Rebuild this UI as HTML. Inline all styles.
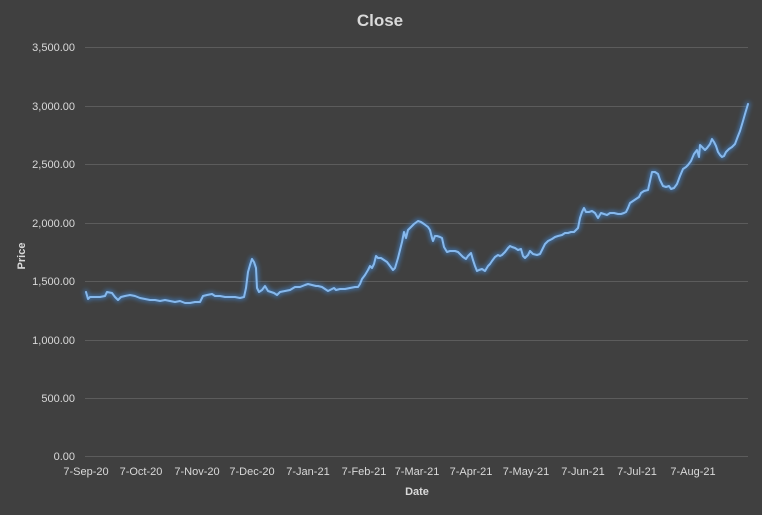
<!DOCTYPE html>
<html><head><style>
html,body{margin:0;padding:0;background:#404040;}
svg{display:block;}
text{font-family:"Liberation Sans",sans-serif;fill:#d9d9d9;}
</style></head><body>
<svg width="762" height="515" viewBox="0 0 762 515">
<defs>
<filter id="g" x="-10%" y="-10%" width="120%" height="120%">
<feGaussianBlur stdDeviation="2"/>
</filter>
<polyline id="p" points="86,292 88,299 90,297 95,297 100,297 105,296 107,292 112,293 115,297 118,300 121,297 125,296 130,295 135,296 140,298 145,299 150,300 155,300 160,301 165,300 170,301 175,302 180,301 185,303 190,303 195,302 200,302 203,296 207,295 212,294 215,296 220,296 225,297 230,297 235,297 240,298 244,297 246,288 248,272 250,265 252,259 254,262 256,268 257,288 259,292 262,290 265,286 268,291 271,292 274,293 277,295 280,292 285,291 290,290 295,287 300,287 305,285 308,284 312,285 316,286 318,286 322,287 325,289 328,291 330,290 334,288 336,290 340,289 345,289 350,288 355,287 358,287 360,284 362,279 365,275 368,270 370,266 372,268 374,264 376,256 378,258 381,258 384,260 387,262 390,266 393,270 395,268 398,258 400,250 402,242 404,232 406,238 408,230 410,228 412,226 414,224 418,221 421,222 424,224 428,227 430,230 432,238 433,241 435,236 437,236 440,237 442,238 444,247 447,252 450,251 455,251 458,252 460,254 463,257 466,259 468,256 471,253 473,260 475,266 477,271 479,270 482,269 485,271 488,266 490,264 492,261 495,257 498,255 500,256 502,255 505,252 508,248 510,246 512,247 515,248 518,250 521,249 523,256 525,258 528,255 530,251 533,254 537,255 540,254 543,248 545,244 548,241 552,239 555,237 558,236 562,235 565,233 568,233 571,232 574,232 576,230 578,228 580,218 582,212 584,208 586,212 589,212 592,211 595,213 598,218 601,213 604,214 607,215 610,213 614,213 618,214 621,214 624,213 626,212 628,208 630,203 633,201 636,199 639,197 641,193 644,191 648,190 650,181 652,172 655,172 658,174 660,180 663,186 666,187 669,186 671,189 674,188 677,184 680,176 683,169 686,167 688,165 691,161 694,154 697,150 699,157 700,145 702,147 705,150 707,148 710,144 712,139 714,142 716,146 718,152 720,155 722,157 724,156 726,152 729,149 732,147 735,144 738,136 740,131 743,121 745,114 748,104"/>
</defs>
<rect width="762" height="515" fill="#404040"/>
<g stroke="#5c5c5c" stroke-width="1">
<line x1="85" x2="748" y1="47.5" y2="47.5"/>
<line x1="85" x2="748" y1="106.5" y2="106.5"/>
<line x1="85" x2="748" y1="164.5" y2="164.5"/>
<line x1="85" x2="748" y1="223.5" y2="223.5"/>
<line x1="85" x2="748" y1="281.5" y2="281.5"/>
<line x1="85" x2="748" y1="340.5" y2="340.5"/>
<line x1="85" x2="748" y1="398.5" y2="398.5"/>
<line x1="85" x2="748" y1="456.5" y2="456.5"/>
</g>
<text x="380" y="26" text-anchor="middle" font-size="17" font-weight="bold">Close</text>
<g font-size="11" text-anchor="end">
<text x="75" y="51">3,500.00</text>
<text x="75" y="110">3,000.00</text>
<text x="75" y="168">2,500.00</text>
<text x="75" y="227">2,000.00</text>
<text x="75" y="285">1,500.00</text>
<text x="75" y="344">1,000.00</text>
<text x="75" y="402">500.00</text>
<text x="75" y="460">0.00</text>
</g>
<g font-size="11" text-anchor="middle">
<text x="86" y="475">7-Sep-20</text>
<text x="141" y="475">7-Oct-20</text>
<text x="197" y="475">7-Nov-20</text>
<text x="252" y="475">7-Dec-20</text>
<text x="308" y="475">7-Jan-21</text>
<text x="364" y="475">7-Feb-21</text>
<text x="417" y="475">7-Mar-21</text>
<text x="471" y="475">7-Apr-21</text>
<text x="526" y="475">7-May-21</text>
<text x="583" y="475">7-Jun-21</text>
<text x="637" y="475">7-Jul-21</text>
<text x="693" y="475">7-Aug-21</text>
</g>
<text x="417" y="495" text-anchor="middle" font-size="11" font-weight="bold">Date</text>
<text transform="translate(25,256) rotate(-90)" text-anchor="middle" font-size="11" font-weight="bold">Price</text>
<g fill="none" stroke-linejoin="round" stroke-linecap="round">
<use href="#p" filter="url(#g)" stroke="#3f7fc4" stroke-width="5" stroke-opacity="0.7"/>
<use href="#p" stroke="#86b8ec" stroke-width="2"/>
</g>
</svg>
</body></html>
